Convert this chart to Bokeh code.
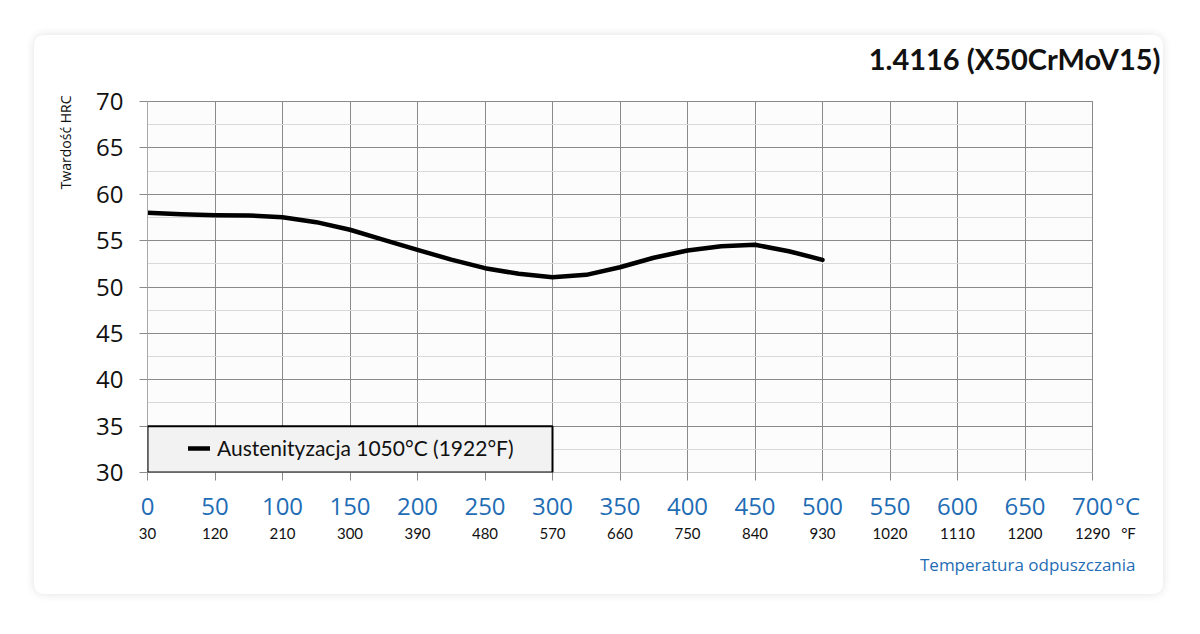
from bokeh.plotting import figure
from bokeh.models import (Range1d, FixedTicker, LinearAxis, Title, Label,
                          BoxAnnotation, Spacer)
from bokeh.layouts import column, row
from bokeh.embed import file_html
from bokeh.resources import INLINE

# ---- data ----
title_text = "1.4116 (X50CrMoV15)"
series_label = "Austenityzacja 1050°C (1922°F)"
temp_c = [0, 25, 50, 75, 100, 125, 150, 175, 200, 225, 250, 275, 300, 325, 350,
          375, 400, 425, 450, 475, 500]
hrc = [58.0, 57.85, 57.74, 57.71, 57.53, 56.99, 56.17, 55.09, 54.01, 52.95, 52.03,
       51.42, 51.06, 51.31, 52.13, 53.15, 53.93, 54.40, 54.55, 53.86, 52.93]
c_ticks = [0, 50, 100, 150, 200, 250, 300, 350, 400, 450, 500, 550, 600, 650, 700]
f_labels = ["30", "120", "210", "300", "390", "480", "570", "660", "750", "840",
            "930", "1020", "1110", "1200", "1290"]
hrc_ticks = [30, 35, 40, 45, 50, 55, 60, 65, 70]
hrc_minor = [32.5, 37.5, 42.5, 47.5, 52.5, 57.5, 62.5, 67.5]
c_unit, f_unit = "°C", "°F"
y_label = "Twardość HRC"
x_label = "Temperatura odpuszczania"

BLUE = "#1f6db5"
GRID = "#8a8a8a"
W, H = 1129, 559
X_MIN, X_MAX, Y_MIN, Y_MAX = 0, 700, 30, 70
PX_PER_C = 1.35                      # 945 px for 700 °C
PX_PER_HRC = 9.275                   # 371 px for 40 HRC
X_END = (W - 113) / PX_PER_C         # frame extends to the right edge of the card
Y_TOP = Y_MAX + 66 / PX_PER_HRC      # ... and up to the top edge of the card
C_UNIT_POS = X_MAX + 35 / PX_PER_C   # unit labels sit just right of the last tick
F_UNIT_POS = X_MAX + 36 / PX_PER_C

p = figure(width=W, height=H, x_range=Range1d(X_MIN, X_END), y_range=Range1d(Y_MIN, Y_TOP),
           output_backend="svg", toolbar_location=None,
           min_border_left=113, min_border_right=0, min_border_top=0, min_border_bottom=122,
           background_fill_color="white", border_fill_color="white")
p.outline_line_color = None
p.styles = {"border-radius": "10px", "box-shadow": "0 0 10px rgba(0,0,0,0.12)", "overflow": "hidden"}

# plotting area background (only over the 0..700 °C, 30..70 HRC region)
p.add_layout(BoxAnnotation(left=X_MIN, right=X_MAX, bottom=Y_MIN, top=Y_MAX,
                           fill_color="#fcfcfc", fill_alpha=1, line_alpha=0, level="image"))

# x axis (°C) – ticks drawn as minor ticks so the unit label gets no tick mark
p.xaxis.ticker = FixedTicker(ticks=c_ticks + [C_UNIT_POS], minor_ticks=c_ticks)
p.xaxis.major_label_overrides = {C_UNIT_POS: c_unit}
p.xaxis.axis_line_color = None
p.xaxis.major_tick_line_color = None
p.xaxis.major_tick_out = 8
p.xaxis.major_tick_in = 0
p.xaxis.minor_tick_line_color = GRID
p.xaxis.minor_tick_out = 8
p.xaxis.minor_tick_in = 0
p.xaxis.major_label_text_font = "Open Sans"
p.xaxis.major_label_text_font_size = "24px"
p.xaxis.major_label_text_color = BLUE
p.xaxis.major_label_standoff = 8
p.xgrid.ticker = FixedTicker(ticks=c_ticks)
p.xgrid.grid_line_color = GRID

# second x axis (°F labels)
f_over = {c: f for c, f in zip(c_ticks, f_labels)}
f_over[F_UNIT_POS] = f_unit
fax = LinearAxis(ticker=FixedTicker(ticks=c_ticks + [F_UNIT_POS]),
                 major_label_overrides=f_over)
fax.axis_line_color = None
fax.major_tick_line_color = None
fax.minor_tick_line_color = None
fax.major_tick_out = 0
fax.major_label_standoff = -1
fax.major_label_text_font = "Lato"
fax.major_label_text_font_size = "15px"
fax.major_label_text_color = "#111111"
p.add_layout(fax, "below")

# y axis
p.yaxis.ticker = FixedTicker(ticks=hrc_ticks, minor_ticks=hrc_minor)
p.yaxis.bounds = (Y_MIN, Y_MAX)
p.yaxis.axis_line_color = "#c8c8c8"
p.yaxis.major_tick_line_color = GRID
p.yaxis.major_tick_out = 8
p.yaxis.major_tick_in = 0
p.yaxis.minor_tick_out = 0
p.yaxis.minor_tick_in = 0
p.yaxis.major_label_text_font = "Open Sans"
p.yaxis.major_label_text_font_size = "24px"
p.yaxis.major_label_text_color = "#111111"
p.yaxis.major_label_standoff = 16
p.ygrid.grid_line_color = GRID
p.ygrid.minor_grid_line_color = "#d9d9d9"

covered = False
try:
    p.ygrid.cross_bounds = (X_MIN, X_MAX)
    p.xgrid.cross_bounds = (Y_MIN, Y_MAX)
except Exception:
    covered = True
if covered:
    p.add_layout(BoxAnnotation(left=X_MAX + 0.6, right=X_END, bottom=Y_MIN, top=Y_TOP,
                               fill_color="white", fill_alpha=1, line_alpha=0))
    p.add_layout(BoxAnnotation(left=X_MIN, right=X_END, bottom=Y_MAX + 0.06, top=Y_TOP,
                               fill_color="white", fill_alpha=1, line_alpha=0))

# frame border
p.add_layout(BoxAnnotation(left=X_MIN, right=X_MAX, bottom=Y_MIN, top=Y_MAX, fill_alpha=0,
                           line_color=GRID, line_alpha=1, line_width=1))

# legend box
p.add_layout(BoxAnnotation(left=0, right=300, bottom=30, top=35, fill_color="#f2f2f2",
                           fill_alpha=1, line_color="black", line_alpha=1, line_width=2))

p.line(temp_c, hrc, line_color="black", line_width=4.5, line_join="round",
       line_cap="round", legend_label=series_label)
lg = p.legend[0]
lg.location = (41, 12)
lg.padding = 0
lg.margin = 0
lg.spacing = 0
lg.background_fill_alpha = 0
lg.border_line_alpha = 0
lg.glyph_width = 22
lg.glyph_height = 22
lg.label_height = 22
lg.label_standoff = 7
lg.label_text_font = "Lato"
lg.label_text_font_size = "21px"
lg.label_text_color = "#111111"

# chart title (inside the extended frame, top-right of the card)
p.add_layout(Label(x=X_MAX + 50.4, y=Y_MAX + 43 / PX_PER_HRC, text=title_text,
                   text_align="right", text_baseline="middle", text_font="Lato",
                   text_font_style="bold", text_font_size="29px", text_color="#111111"))

# axis captions
p.add_layout(Title(text=x_label, align="right", offset=28, standoff=12,
                   text_font="Open Sans", text_font_style="normal", text_font_size="17px",
                   text_color=BLUE), "below")
p.add_layout(Title(text=y_label, align="right", offset=60, standoff=38,
                   text_font="Open Sans", text_font_style="normal", text_font_size="14px",
                   text_color="#111111"), "left")

layout = column(Spacer(height=35), row(Spacer(width=34), p))
open("out.html", "w").write(file_html(layout, INLINE))
